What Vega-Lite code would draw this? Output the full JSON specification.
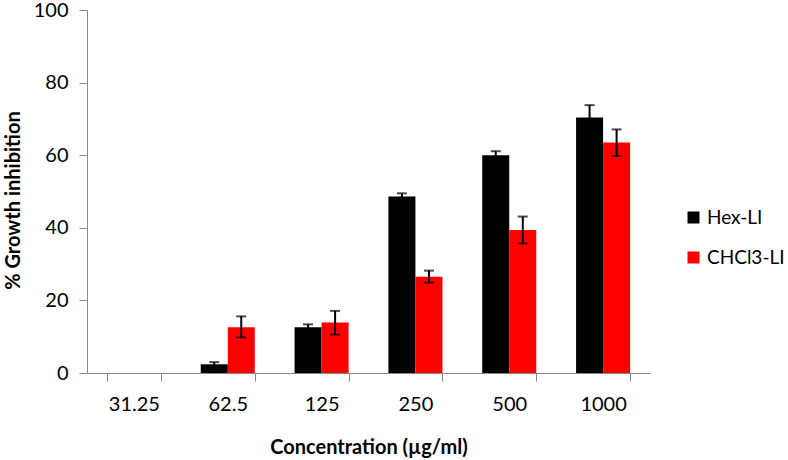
{
  "$schema": "https://vega.github.io/schema/vega-lite/v6.json",
  "width": 563,
  "height": 363,
  "autosize": {"type": "none"},
  "padding": {"left": 87, "top": 10, "right": 138, "bottom": 87},
  "background": "white",
  "config": {
    "view": {"stroke": null},
    "font": "Lato",
    "axis": {"grid": false, "domainColor": "#888888", "tickColor": "#888888", "labelFont": "Lato", "titleFont": "Lato", "labelColor": "#000000", "titleColor": "#000000"}
  },
  "data": {
    "values": [
      {"conc": "31.25", "extract": "Hex-LI", "value": 0, "lo": null, "hi": null},
      {"conc": "31.25", "extract": "CHCl3-LI", "value": 0, "lo": null, "hi": null},
      {"conc": "62.5", "extract": "Hex-LI", "value": 2.4, "lo": 1.8, "hi": 3.0},
      {"conc": "62.5", "extract": "CHCl3-LI", "value": 12.6, "lo": 9.8, "hi": 15.6},
      {"conc": "125", "extract": "Hex-LI", "value": 12.6, "lo": 11.8, "hi": 13.4},
      {"conc": "125", "extract": "CHCl3-LI", "value": 13.9, "lo": 10.6, "hi": 17.1},
      {"conc": "250", "extract": "Hex-LI", "value": 48.6, "lo": 47.7, "hi": 49.5},
      {"conc": "250", "extract": "CHCl3-LI", "value": 26.5, "lo": 24.9, "hi": 28.2},
      {"conc": "500", "extract": "Hex-LI", "value": 60.0, "lo": 58.9, "hi": 61.1},
      {"conc": "500", "extract": "CHCl3-LI", "value": 39.4, "lo": 35.7, "hi": 43.1},
      {"conc": "1000", "extract": "Hex-LI", "value": 70.4, "lo": 67.0, "hi": 73.8},
      {"conc": "1000", "extract": "CHCl3-LI", "value": 63.5, "lo": 59.8, "hi": 67.1}
    ]
  },
  "encoding": {
    "x": {
      "field": "conc", "type": "nominal",
      "sort": ["31.25", "62.5", "125", "250", "500", "1000"],
      "scale": {"paddingInner": 0.424, "paddingOuter": 0.212},
      "axis": {
        "title": "Concentration (µg/ml)",
        "labelAngle": 0,
        "labelFontSize": 20,
        "labelPadding": 13,
        "tickBand": "extent",
        "tickSize": 8,
        "titleFontSize": 20,
        "titleFontWeight": "bold",
        "titleY": 74,
        "titleBaseline": "middle"
      }
    },
    "xOffset": {"field": "extract", "type": "nominal", "sort": ["Hex-LI", "CHCl3-LI"], "scale": {"paddingInner": 0, "paddingOuter": 0}}
  },
  "layer": [
    {
      "mark": {"type": "bar"},
      "encoding": {
        "y": {
          "field": "value", "type": "quantitative",
          "scale": {"domain": [0, 100], "nice": false},
          "axis": {
            "title": "% Growth inhibition",
            "values": [0, 20, 40, 60, 80, 100],
            "labelFontSize": 20,
            "labelPadding": 11,
            "tickSize": 8,
            "titleFontSize": 20,
            "titleFontWeight": "bold",
            "titleX": -74,
            "titleY": 190,
            "titleAngle": -90,
            "titleBaseline": "middle",
            "titleAlign": "center"
          }
        },
        "color": {
          "field": "extract", "type": "nominal",
          "scale": {"domain": ["Hex-LI", "CHCl3-LI"], "range": ["#000000", "#ff0000"]},
          "legend": {
            "title": null,
            "orient": "none",
            "legendX": 597,
            "legendY": 198,
            "padding": 0,
            "symbolType": "square",
            "symbolSize": 144,
            "symbolStrokeWidth": 0,
            "labelFontSize": 19,
            "labelOffset": 4,
            "rowPadding": 20,
            "labelFont": "Lato",
            "labelColor": "#000000"
          }
        }
      }
    },
    {
      "mark": {"type": "rule", "color": "#000000", "strokeWidth": 2},
      "encoding": {
        "y": {"field": "lo", "type": "quantitative"},
        "y2": {"field": "hi"}
      }
    },
    {
      "mark": {"type": "tick", "color": "#000000", "thickness": 2, "size": 10},
      "encoding": {"y": {"field": "lo", "type": "quantitative"}}
    },
    {
      "mark": {"type": "tick", "color": "#000000", "thickness": 2, "size": 10},
      "encoding": {"y": {"field": "hi", "type": "quantitative"}}
    }
  ]
}
